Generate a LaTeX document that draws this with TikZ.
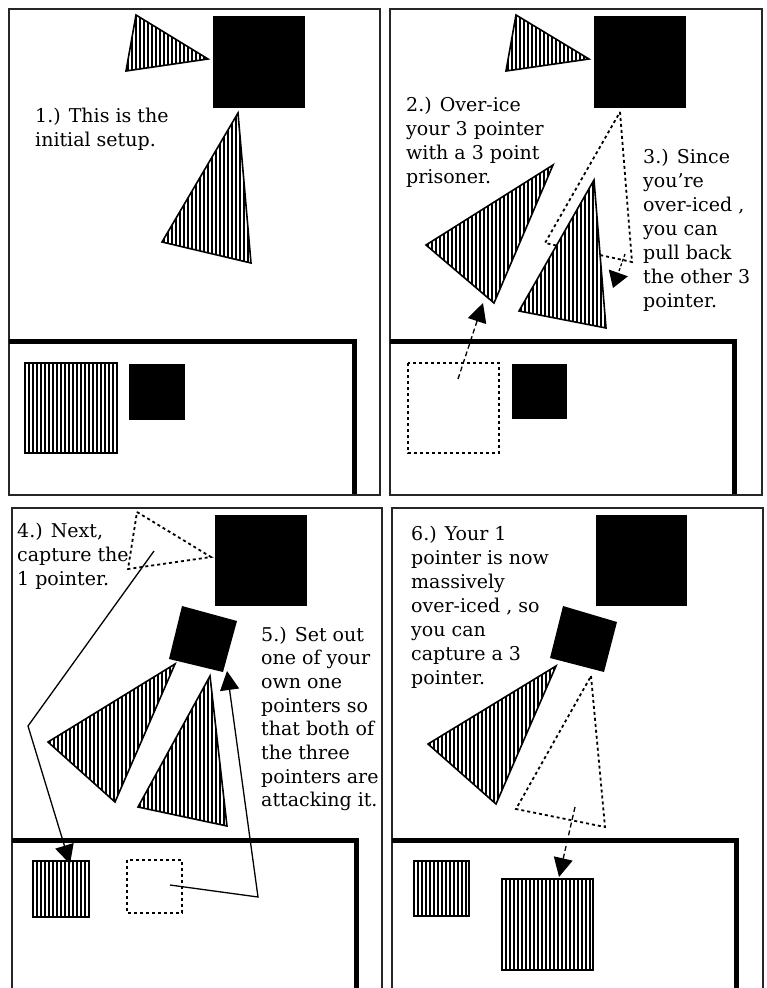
\documentclass[tikz,border=0pt]{standalone}
\usepackage{fontspec}
\setmainfont{DejaVu Serif}
\usetikzlibrary{arrows.meta}
\tikzset{
  frame/.style={line width=1.6pt, draw=black!85},
  shelf/.style={line width=5pt, draw=black},
  dotsq/.style={line width=1.8pt, dash pattern=on 3pt off 3pt},
  outl/.style={line width=1.6pt},
  arr/.style={line width=1.3pt, -{Triangle[length=19pt,width=19pt]}},
  darr/.style={arr, dash pattern=on 5pt off 3pt},
  txt/.style={anchor=base west, inner sep=0pt, font=\fontsize{19}{24}\selectfont},
}
\newcommand\striped[3]{%
  \fill[white] #1;
  \begin{scope}
    \clip #1;
    \pgfmathsetmacro\xnext{#2+4}
    \foreach \x in {#2,\xnext,...,#3} \draw[line width=2pt] (\x,0) -- (\x,988);
  \end{scope}
  \draw[outl] #1;}
\begin{document}
\begin{tikzpicture}[x=1pt,y=-1pt]
\useasboundingbox (0,0) rectangle (766,988);
\fill[white] (0,0) rectangle (766,988);

% ---------------- frames ----------------
\draw[frame] (9,9) rectangle (380,495);
\draw[frame] (390,9) rectangle (762,495);
\draw[frame] (12,990) -- (12,508) -- (382,508) -- (382,990);
\draw[frame] (392,990) -- (392,508) -- (763,508) -- (763,990);
% thick shelves
\draw[shelf] (9,341) -- (354,341) -- (354,494);
\draw[shelf] (390,341) -- (734,341) -- (734,494);
\draw[shelf] (12,840) -- (356,840) -- (356,990);
\draw[shelf] (392,840) -- (736,840) -- (736,990);

% ---------------- panel 1 ----------------
\striped{(136,15) -- (208,59) -- (126,71) -- cycle}{124}{210}
\fill (213,16) rectangle (305,108);
\striped{(238,113) -- (251,263) -- (162,242) -- cycle}{160}{252}
\striped{(25,363) rectangle (117,453)}{25}{117}
\fill (129,364) rectangle (185,420);
\node[txt] (t1) at (35,122) {\vtop{\hbox{1.) This is the}\hbox{initial setup.}}};

% ---------------- panel 2 ----------------
\striped{(516,15) -- (589,59) -- (506,71) -- cycle}{504}{590}
\fill (594,16) rectangle (686,108);
\draw[dotsq] (620,112) -- (632,262) -- (545,243) -- cycle;
\striped{(553,165) -- (494,303) -- (426,245) -- cycle}{424}{554}
\striped{(594,180) -- (606,328) -- (519,311) -- cycle}{517}{607}
\draw[dotsq] (408,363) rectangle (499,453);
\fill (512,364) rectangle (567,419);
\coordinate (a2s) at (458,379);
\coordinate (a2e) at (483,303);
\draw[darr] (a2s) -- (a2e);
\coordinate (a3s) at (625,254);
\coordinate (a3e) at (613,288);
\draw[line width=1.3pt, dash pattern=on 3pt off 2pt, -{Triangle[length=16pt,width=20pt]}] (a3s) -- (a3e);
\node[txt] (t2) at (406,111) {\vtop{\hbox{2.) Over-ice}\hbox{your 3 pointer}\hbox{with a 3 point}\hbox{prisoner.}}};
\node[txt] (t3) at (643,163) {\vtop{\hbox{3.) Since}\hbox{you're}\hbox{over-iced ,}\hbox{you can}\hbox{pull back}\hbox{the other 3}\hbox{pointer.}}};

% ---------------- panel 3 ----------------
\draw[dotsq] (137,512) -- (211,557) -- (128,569) -- cycle;
\fill (215,515) rectangle (307,606);
\fill (182,606) -- (237,621) -- (223,672) -- (169,659) -- cycle;
\striped{(175,664) -- (115,802) -- (48,742) -- cycle}{46}{176}
\striped{(210,676) -- (227,826) -- (138,807) -- cycle}{136}{228}
\striped{(33,861) rectangle (89,917)}{33}{89}
\draw[dotsq] (127,860) rectangle (182,913);
\coordinate (a4s) at (154,551);
\coordinate (a4m) at (28,726);
\coordinate (a4e) at (70,864);
\draw[arr] (a4s) -- (a4m) -- (a4e);
\coordinate (a5s) at (170,885);
\coordinate (a5m) at (258,897);
\coordinate (a5e) at (227,671);
\draw[arr] (a5s) -- (a5m) -- (a5e);
\node[txt] (t4) at (17,537) {\vtop{\hbox{4.) Next,}\hbox{capture the}\hbox{1 pointer.}}};
\node[txt] (t5) at (261,641) {\vtop{\baselineskip=23.7pt\hbox{5.) Set out}\hbox{one of your}\hbox{own one}\hbox{pointers so}\hbox{that both of}\hbox{the three}\hbox{pointers are}\hbox{attacking it.}}};

% ---------------- panel 4 ----------------
\fill (596,515) rectangle (687,606);
\fill (563,606) -- (617,622) -- (604,672) -- (550,658) -- cycle;
\striped{(556,666) -- (496,804) -- (428,744) -- cycle}{426}{557}
\draw[dotsq] (591,676) -- (605,827) -- (516,809) -- cycle;
\striped{(414,861) rectangle (469,916)}{414}{469}
\striped{(502,879) rectangle (593,970)}{502}{593}
\coordinate (a6s) at (575,807);
\coordinate (a6e) at (559,877);
\draw[darr] (a6s) -- (a6e);
\node[txt] (t6) at (411,540) {\vtop{\hbox{6.) Your 1}\hbox{pointer is now}\hbox{massively}\hbox{over-iced , so}\hbox{you can}\hbox{capture a 3}\hbox{pointer.}}};
\end{tikzpicture}
\end{document}
